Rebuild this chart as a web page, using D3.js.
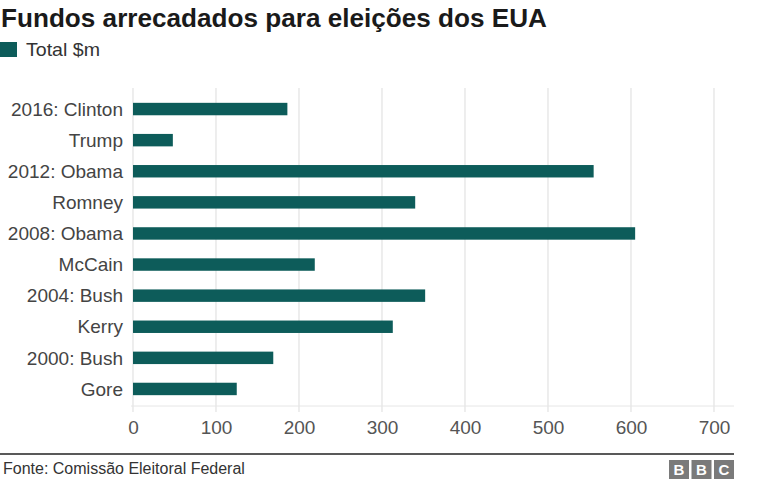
<!DOCTYPE html>
<html><head><meta charset="utf-8">
<script src="https://cdn.jsdelivr.net/npm/d3@7"></script>
<style>body{margin:0;background:#fff}svg{display:block;font-family:"Liberation Sans",Arial,Helvetica,sans-serif}</style>
</head><body>
<svg id="c" width="774" height="490"></svg>
<script>
const categories = ["2016: Clinton","Trump","2012: Obama","Romney","2008: Obama","McCain","2004: Bush","Kerry","2000: Bush","Gore"];
const totals = [186, 48, 555, 340, 605, 219, 352, 313, 169, 125];
const tickValues = [0,100,200,300,400,500,600,700];
const title = "Fundos arrecadados para eleições dos EUA";
const legendLabel = "Total $m";
const source = "Fonte: Comissão Eleitoral Federal";

const svg = d3.select("#c");
const barColor = "#0d5c5a";
const m = {left:133, right:734, top:88, bottom:406};
const x = d3.scaleLinear().domain([0,700]).range([m.left, 714]);
const y = d3.scaleBand().domain(categories).range([93.5, 404.5]).paddingInner(0.6).paddingOuter(0.3);

// title
svg.append("text").attr("x",1).attr("y",27).attr("font-size",25).attr("font-weight","bold").attr("fill","#1a1a1a")
  .attr("textLength",546).attr("lengthAdjust","spacingAndGlyphs").text(title);
// legend
svg.append("rect").attr("x",0).attr("y",42).attr("width",17).attr("height",15).attr("fill",barColor);
svg.append("text").attr("x",26).attr("y",56).attr("font-size",19).attr("fill","#333")
  .attr("textLength",74).attr("lengthAdjust","spacingAndGlyphs").text(legendLabel);

// gridlines
svg.append("g").selectAll("line").data(tickValues).join("line")
  .attr("x1",d=>x(d)).attr("x2",d=>x(d)).attr("y1",m.top).attr("y2",412)
  .attr("stroke","#e2e2e2").attr("stroke-width",1.2);
// baseline
svg.append("line").attr("x1",m.left-2).attr("x2",m.right).attr("y1",m.bottom).attr("y2",m.bottom).attr("stroke","#e6e6e6");

// x tick labels
const xAxis = d3.axisBottom(x).tickValues(tickValues).tickSize(0).tickPadding(0);
const gx = svg.append("g").attr("transform",`translate(0,${m.bottom})`).call(xAxis);
gx.select(".domain").remove();
gx.selectAll("text").attr("y",28).attr("dy",0).attr("font-size",19).attr("fill","#555").attr("font-family","Liberation Sans, Arial, sans-serif");

// y labels
const yAxis = d3.axisLeft(y).tickSize(0).tickPadding(0);
const gy = svg.append("g").attr("transform",`translate(123,0)`).call(yAxis);
gy.select(".domain").remove();
gy.selectAll("text").attr("font-size",19).attr("fill","#444").attr("dy","0.35em").attr("font-family","Liberation Sans, Arial, sans-serif");

// bars
svg.append("g").selectAll("rect").data(categories).join("rect")
  .attr("x",x(0)).attr("y",d=>y(d)).attr("height",y.bandwidth())
  .attr("width",(d,i)=>x(totals[i])-x(0)).attr("fill",barColor);

// footer
svg.append("line").attr("x1",0).attr("x2",734).attr("y1",454).attr("y2",454).attr("stroke","#222").attr("stroke-width",1.5);
svg.append("text").attr("x",3).attr("y",474).attr("font-size",16).attr("fill","#333").text(source);
const bbc = ["B","B","C"];
const lg = svg.append("g");
bbc.forEach((ch,i)=>{
  lg.append("rect").attr("x",669+i*22.5).attr("y",460).attr("width",20).attr("height",19).attr("fill","#7a7a7a");
  lg.append("text").attr("x",679+i*22.5).attr("y",475).attr("text-anchor","middle").attr("font-size",15).attr("font-weight","bold").attr("fill","#fff").text(ch);
});
</script>
</body></html>
